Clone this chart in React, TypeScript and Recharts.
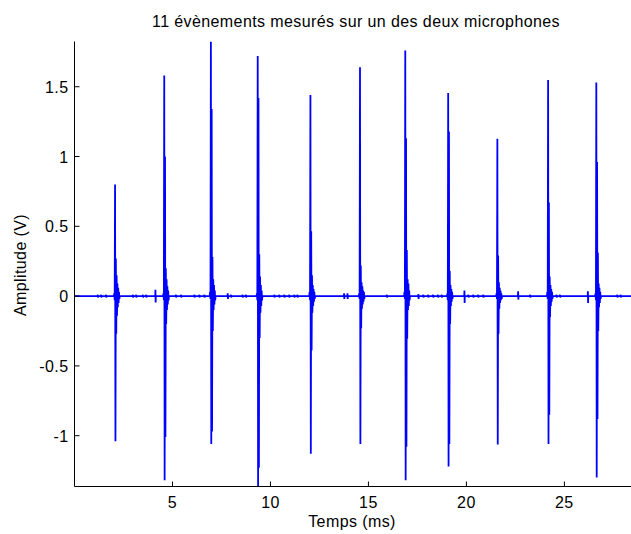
import React from 'react';
import { LineChart, Line, XAxis, YAxis } from 'recharts';

const FONT = '"Liberation Sans", Arial, Helvetica, sans-serif';

// axis ticks
const xTicks = [5, 10, 15, 20, 25];
const yTicks = [-1, -0.5, 0, 0.5, 1, 1.5];

// time (ms) of the main spike of each of the 11 events
const eventTimes = [2.07, 4.58, 6.96, 9.35, 12.04, 14.57, 16.88, 19.07, 21.58, 24.17, 26.63];

// samples of each event, 0.02 ms apart, main spike at index 3
const event1 = [0, 0.02, -0.03, 0.8, -1.04, 0.27, -0.27, 0.15, -0.14, 0.09, -0.08, 0.06, -0.05, 0.03, -0.02, 0];
const event2 = [0, 0.02, -0.03, 1.58, -1.32, 1.0, -1.01, 0.2, -0.2, 0.12, -0.1, 0.07, -0.06, 0.04, -0.03, 0];
const event3 = [0, 0.03, -0.02, 1.824, -1.06, 1.34, -0.97, 0.28, -0.25, 0.12, -0.1, 0.08, -0.06, 0.04, -0.03, 0];
const event4 = [0, 0.02, -0.03, 1.72, -1.364, 1.42, -1.23, 0.3, -0.3, 0.14, -0.12, 0.08, -0.07, 0.04, -0.03, 0];
const event5 = [0, 0.03, -0.03, 1.44, -1.13, 0.465, -0.39, 0.15, -0.12, 0.08, -0.07, 0.05, -0.04, 0.03, -0.02, 0];
const event6 = [0, 0.02, -0.02, 1.64, -1.06, 0.22, -0.23, 0.1, -0.09, 0.07, -0.06, 0.04, -0.04, 0.03, -0.02, 0];
const event7 = [0, 0.03, -0.02, 1.76, -1.32, 1.13, -1.08, 0.33, -0.305, 0.12, -0.1, 0.09, -0.07, 0.04, -0.03, 0];
const event8 = [0, 0.02, -0.03, 1.455, -1.22, 1.18, -1.06, 0.18, -0.2, 0.08, -0.07, 0.05, -0.04, 0.03, -0.02, 0];
const event9 = [0, 0.02, -0.02, 1.128, -1.063, 0.29, -0.27, 0.1, -0.09, 0.06, -0.05, 0.04, -0.03, 0.02, -0.02, 0];
const event10 = [0, 0.03, -0.02, 1.548, -1.06, 0.67, -0.85, 0.14, -0.15, 0.08, -0.07, 0.05, -0.04, 0.03, -0.02, 0];
const event11 = [0, 0.02, -0.03, 1.53, -1.3, 0.96, -0.88, 0.31, -0.25, 0.09, -0.08, 0.06, -0.05, 0.03, -0.02, 0];
const events = [event1, event2, event3, event4, event5, event6, event7, event8, event9, event10, event11];

// small noise blips on the baseline between events
const blipTimes = [
  1.19, 1.36, 1.61, 2.98, 3.15, 3.49, 3.66, 4.13, 5.18, 5.44, 6.12, 6.37, 6.63, 7.82, 7.99,
  8.58, 8.75, 10.2, 10.45, 10.71, 10.96, 11.22, 11.38, 13.76, 13.93, 15.94, 17.55, 17.8,
  18.05, 18.3, 18.55, 18.74, 19.9, 20.1, 20.35, 20.6, 20.86, 22.64, 23.25, 24.6, 24.78,
  26.2, 27.7, 27.87,
];
const blipUp = [
  0.01, 0.01, 0.01, 0.01, 0.01, 0.01, 0.01, 0.045, 0.01, 0.01, 0.01, 0.01, 0.01, 0.02, 0.01,
  0.01, 0.01, 0.01, 0.01, 0.01, 0.01, 0.01, 0.01, 0.02, 0.02, 0.01, 0.015, 0.01,
  0.01, 0.01, 0.01, 0.01, 0.04, 0.01, 0.01, 0.01, 0.01, 0.035, 0.01, 0.01, 0.01,
  0.035, 0.01, 0.01,
];
const blipDown = [
  -0.01, -0.01, -0.01, -0.01, -0.01, -0.01, -0.01, -0.045, -0.01, -0.01, -0.01, -0.01, -0.01, -0.02, -0.01,
  -0.01, -0.01, -0.01, -0.01, -0.01, -0.01, -0.01, -0.01, -0.02, -0.02, -0.01, -0.02, -0.01,
  -0.01, -0.01, -0.01, -0.01, -0.05, -0.01, -0.01, -0.01, -0.01, -0.025, -0.01, -0.01, -0.01,
  -0.05, -0.01, -0.01,
];

const STEP = 0.02;
const X_MAX = 28.4;

const points: { t: number; v: number }[] = [{ t: 0, v: 0 }, { t: X_MAX, v: 0 }];
events.forEach((samples, k) => {
  samples.forEach((v, i) => points.push({ t: eventTimes[k] + (i - 3) * STEP, v }));
});
blipTimes.forEach((t, k) => {
  points.push({ t: t - 0.01, v: 0 });
  points.push({ t, v: blipUp[k] });
  points.push({ t: t + 0.01, v: blipDown[k] });
  points.push({ t: t + 0.02, v: 0 });
});
points.sort((a, b) => a.t - b.t);

const textStyle = { fontFamily: FONT, fontSize: 16, letterSpacing: 0.4, fill: '#000' };

const BottomTick = ({ x, y, payload }: any) => (
  <g>
    <line x1={x} y1={y} x2={x} y2={y - 5} stroke="#000" />
    <text x={x} y={y + 21} textAnchor="middle" style={textStyle}>
      {payload.value}
    </text>
  </g>
);

const TopTick = ({ x, y }: any) => <line x1={x} y1={y} x2={x} y2={y + 5} stroke="#000" />;

const LeftTick = ({ x, y, payload }: any) => (
  <g>
    <line x1={x} y1={y} x2={x + 5} y2={y} stroke="#000" />
    <text x={x - 6} y={y + 6} textAnchor="end" style={textStyle}>
      {payload.value}
    </text>
  </g>
);

export default function App() {
  return (
    <div style={{ position: 'absolute', left: 0, top: 0, width: 631, height: 534, background: '#fff' }}>
      <LineChart width={631} height={534} data={points} margin={{ top: 41.5, right: 0, bottom: 0, left: 0 }}>
        <XAxis
          dataKey="t"
          type="number"
          domain={[0, X_MAX]}
          ticks={xTicks}
          allowDataOverflow
          height={47.5}
          axisLine={{ stroke: '#000' }}
          tickLine={false}
          tickSize={0}
          tickMargin={0}
          tick={<BottomTick />}
        />
        <XAxis
          xAxisId="top"
          orientation="top"
          dataKey="t"
          type="number"
          domain={[0, X_MAX]}
          ticks={xTicks}
          allowDataOverflow
          height={0}
          axisLine={{ stroke: '#000' }}
          tickLine={false}
          tickSize={0}
          tickMargin={0}
          tick={<TopTick />}
        />
        <YAxis
          type="number"
          domain={[-1.364, 1.824]}
          ticks={yTicks}
          allowDataOverflow
          width={74.5}
          axisLine={{ stroke: '#000' }}
          tickLine={false}
          tickSize={0}
          tickMargin={0}
          tick={<LeftTick />}
        />
        <Line
          type="linear"
          dataKey="v"
          stroke="#0000ff"
          strokeWidth={1.8}
          dot={false}
          activeDot={false}
          isAnimationActive={false}
        />
      </LineChart>
      <svg width={631} height={534} style={{ position: 'absolute', left: 0, top: 0, pointerEvents: 'none' }}>
        <text x={356} y={27} textAnchor="middle" style={textStyle}>
          11 évènements mesurés sur un des deux microphones
        </text>
        <text x={352} y={527} textAnchor="middle" style={textStyle}>
          Temps (ms)
        </text>
        <text x={26} y={265} textAnchor="middle" transform="rotate(-90 26 265)" style={textStyle}>
          Amplitude (V)
        </text>
      </svg>
    </div>
  );
}
